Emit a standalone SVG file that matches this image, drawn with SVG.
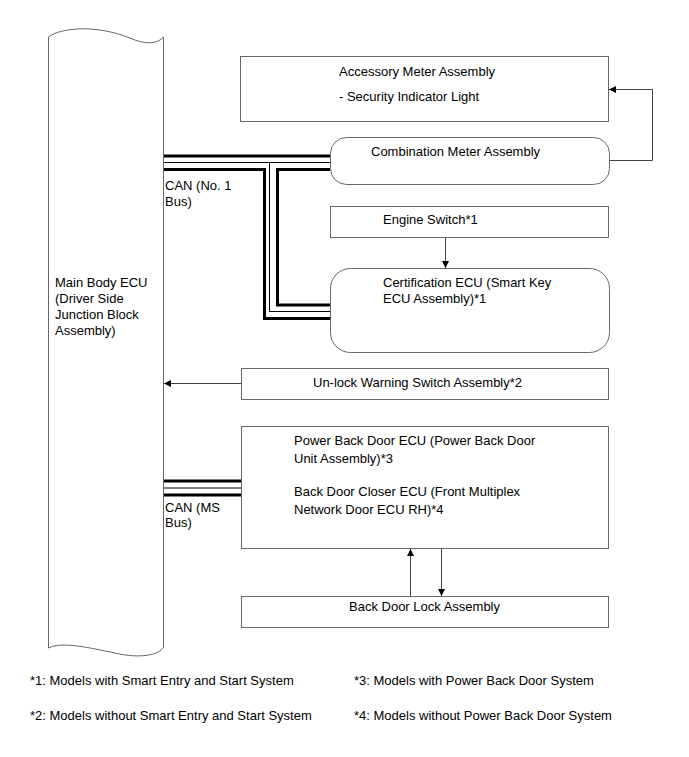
<svg xmlns="http://www.w3.org/2000/svg" width="689" height="757" viewBox="0 0 689 757">
<style>
text{font-family:"Liberation Sans",Arial,sans-serif;font-size:13px;fill:#000}
.box{fill:#fff;stroke:#666;stroke-width:1}
.w{fill:none;stroke:#000}
.thick{stroke-width:3}
.thin{stroke-width:1}
.arr{fill:none;stroke:#444;stroke-width:1}
</style>
<defs>
<marker id="ah" viewBox="0 0 10 10" refX="10" refY="5" markerWidth="9" markerHeight="7" markerUnits="userSpaceOnUse" orient="auto">
<path d="M0,0 L10,5 L0,10 z" fill="#000"/>
</marker>
</defs>
<rect width="689" height="757" fill="#fff"/>

<g id="main-ecu">
<path class="box" d="M48.5,37 C60,28 95,24 130,38 C145,45 158,44 163.5,37 L163.5,647 C160,655 140,659 115,653 C90,648 62,641 48.5,648 Z"/>
<text x="55" y="287">Main Body ECU</text>
<text x="55" y="303">(Driver Side</text>
<text x="55" y="319">Junction Block</text>
<text x="55" y="335">Assembly)</text>
</g>

<g id="accessory-meter">
<rect class="box" x="240.5" y="56.5" width="368" height="65"/>
<text x="339" y="76">Accessory Meter Assembly</text>
<text x="339" y="101">- Security Indicator Light</text>
</g>

<g id="combination-meter">
<rect class="box" x="330.5" y="137.5" width="279" height="47" rx="16" ry="16"/>
<text x="371" y="156">Combination Meter Assembly</text>
</g>

<g id="engine-switch">
<rect class="box" x="330.5" y="206.5" width="278" height="31"/>
<text x="383" y="224">Engine Switch*1</text>
</g>

<g id="certification-ecu">
<rect class="box" x="330.5" y="268.5" width="279" height="84" rx="20" ry="20"/>
<text x="383" y="287">Certification ECU (Smart Key</text>
<text x="383" y="303">ECU Assembly)*1</text>
</g>

<g id="unlock-warning">
<rect class="box" x="241.5" y="368.5" width="367" height="31"/>
<text x="313" y="387">Un-lock Warning Switch Assembly*2</text>
</g>

<g id="back-door-ecu">
<rect class="box" x="241.5" y="426.5" width="367" height="122"/>
<text x="294" y="445">Power Back Door ECU (Power Back Door</text>
<text x="294" y="463">Unit Assembly)*3</text>
<text x="294" y="496">Back Door Closer ECU (Front Multiplex</text>
<text x="294" y="514">Network Door ECU RH)*4</text>
</g>

<g id="back-door-lock">
<rect class="box" x="241.5" y="596.5" width="367" height="31"/>
<text x="349" y="611">Back Door Lock Assembly</text>
</g>

<g id="connectors">
<path class="w thick" d="M164,156 H330"/>
<path class="w thin" d="M164,162.5 H330"/>
<path class="w thin" d="M269.5,162.5 V311.5 H330"/>
<path class="w thick" d="M164,169.5 H264.5 V318.5 H330"/>
<path class="w thick" d="M330,169.5 H277.5 V305 H330"/>
<path class="w thick" d="M164,481 H241"/>
<path class="w thin" d="M164,488 H241"/>
<path class="w thick" d="M164,495 H241"/>
<path class="arr" d="M610,160.5 H652.5 V89.5 H609" marker-end="url(#ah)"/>
<path class="arr" d="M445.5,238 V268" marker-end="url(#ah)"/>
<path class="arr" d="M241,383.5 H164" marker-end="url(#ah)"/>
<path class="arr" d="M410.5,596 V549" marker-end="url(#ah)"/>
<path class="arr" d="M441.5,549 V596" marker-end="url(#ah)"/>
</g>

<g id="labels">
<text x="165" y="190">CAN (No. 1</text>
<text x="165" y="206">Bus)</text>
<text x="165" y="512">CAN (MS</text>
<text x="165" y="527">Bus)</text>
</g>

<g id="footnotes">
<text x="30" y="685">*1: Models with Smart Entry and Start System</text>
<text x="354" y="685">*3: Models with Power Back Door System</text>
<text x="30" y="720">*2: Models without Smart Entry and Start System</text>
<text x="354" y="720">*4: Models without Power Back Door System</text>
</g>
</svg>
